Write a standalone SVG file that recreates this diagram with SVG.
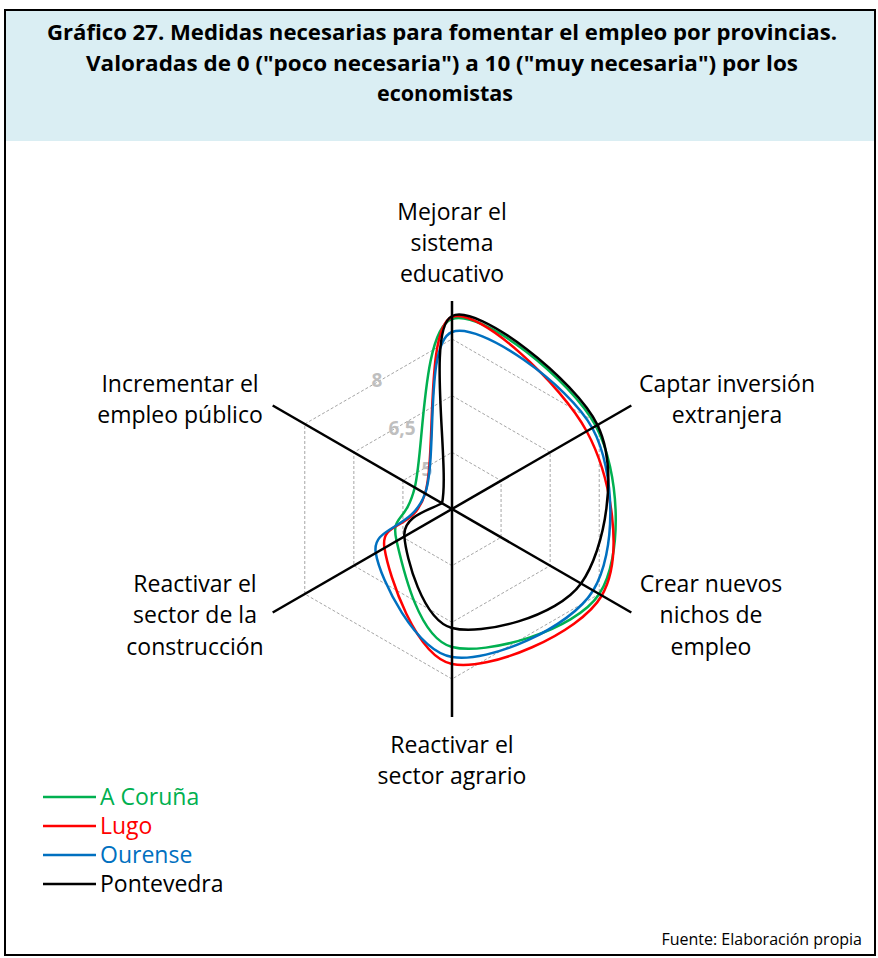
<svg xmlns="http://www.w3.org/2000/svg" width="878" height="958" viewBox="0 0 878 958">
<style>
.ttl{font-family:"Open Sans","Liberation Sans",sans-serif;font-weight:bold;font-size:22px;fill:#000;text-anchor:middle}
.lbl{font-family:"Open Sans","Liberation Sans",sans-serif;font-size:23px;fill:#000;text-anchor:middle}
.tick{font-family:"Open Sans","Liberation Sans",sans-serif;font-weight:bold;font-size:19px;fill:#bfbfbf;text-anchor:middle}
.leg{font-family:"Open Sans","Liberation Sans",sans-serif;font-size:23px}
.grid{fill:none;stroke:#a6a6a6;stroke-width:1;stroke-dasharray:3 2}
.ser{fill:none;stroke-width:2.5;stroke-linejoin:round}
.axis{stroke:#000;stroke-width:2.5}
</style>
<rect x="0" y="0" width="878" height="958" fill="#fff"/>
<rect x="5" y="10" width="870" height="131" fill="#daeef3"/>
<rect x="5" y="10" width="870" height="945" fill="none" stroke="#000" stroke-width="2"/>
<g id="title">
<text class="ttl" x="442" y="40" textLength="790" lengthAdjust="spacingAndGlyphs">Gráfico 27. Medidas necesarias para fomentar el empleo por provincias.</text>
<text class="ttl" x="442" y="71" textLength="712" lengthAdjust="spacingAndGlyphs">Valoradas de 0 ("poco necesaria") a 10 ("muy necesaria") por los</text>
<text class="ttl" x="445" y="101" textLength="136" lengthAdjust="spacingAndGlyphs">economistas</text>
</g>
<g id="grid">
<polygon class="grid" points="452,452.33 501.07,480.67 501.07,537.33 452,565.67 402.93,537.33 402.93,480.67"/>
<polygon class="grid" points="452,395.67 550.15,452.33 550.15,565.67 452,622.33 353.85,565.67 353.85,452.33"/>
<polygon class="grid" points="452,339 599.22,424 599.22,594 452,679 304.78,594 304.78,424"/>
<text class="tick" x="377" y="387">8</text>
<text class="tick" x="402" y="435">6,5</text>
<text class="tick" x="427" y="476">5</text>
</g>
<g id="series">
<path id="s-coruna" class="ser" stroke="#00b050" d="M452,319 C482.17,308.75 571.22,380.17 595.76,426 S623.18,557.17 599.22,594 S485.77,655.83 452,647 S402.79,567.58 396.58,541 S405.52,524.5 414.76,487.5 S421.83,329.25 452,319 Z"/>
<path id="s-lugo" class="ser" stroke="#ff0000" d="M452,317 C478.92,306.63 561.70,384.83 586.67,431.25 S624.27,556.71 601.82,595.5 S488.23,671.92 452,664 S388.93,576.42 384.45,548 S413.89,532 425.15,493.5 S425.08,327.38 452,317 Z"/>
<path id="s-ourense" class="ser" stroke="#0070c0" d="M452,332 C479.86,321.08 568.76,384.92 592.29,428 S616.54,552.33 593.16,590.5 S488.23,663.25 452,657 S380.27,580.25 375.79,553 S412.45,530.33 425.15,493.5 S424.14,342.92 452,332 Z"/>
<path id="s-pontevedra" class="ser" stroke="#000" d="M452,316 C477.91,302.96 575.98,380.42 597.49,425 S605.29,549.67 581.04,583.5 S481.45,635.83 452,628 S406.03,557.29 404.37,536.5 C402.71,515.71 430,510 442.04,503.25 C449.98,466.5 426.09,329.04 452,316 Z"/>
</g>
<g id="axes">
<line class="axis" x1="452" y1="301" x2="452" y2="717"/>
<line class="axis" x1="272.7" y1="405.5" x2="631.3" y2="612.5"/>
<line class="axis" x1="272.7" y1="612.5" x2="631.3" y2="405.5"/>
</g>
<g id="axis-labels">
<g id="lbl-educativo"><text class="lbl" x="452" y="220">Mejorar el</text><text class="lbl" x="452" y="251">sistema</text><text class="lbl" x="452" y="282">educativo</text></g>
<g id="lbl-inversion"><text class="lbl" x="727" y="392">Captar inversión</text><text class="lbl" x="727" y="423">extranjera</text></g>
<g id="lbl-nichos"><text class="lbl" x="711" y="592">Crear nuevos</text><text class="lbl" x="711" y="623">nichos de</text><text class="lbl" x="711" y="655">empleo</text></g>
<g id="lbl-agrario"><text class="lbl" x="452" y="753">Reactivar el</text><text class="lbl" x="452" y="784">sector agrario</text></g>
<g id="lbl-construccion"><text class="lbl" x="195" y="592">Reactivar el</text><text class="lbl" x="195" y="623">sector de la</text><text class="lbl" x="195" y="655">construcción</text></g>
<g id="lbl-publico"><text class="lbl" x="180" y="392">Incrementar el</text><text class="lbl" x="180" y="423">empleo público</text></g>
</g>
<g id="legend">
<line x1="43" y1="797" x2="96" y2="797" stroke="#00b050" stroke-width="2.5"/>
<text class="leg" x="100" y="805" fill="#00b050">A Coruña</text>
<line x1="43" y1="826" x2="96" y2="826" stroke="#ff0000" stroke-width="2.5"/>
<text class="leg" x="100" y="834" fill="#ff0000">Lugo</text>
<line x1="43" y1="855" x2="96" y2="855" stroke="#0070c0" stroke-width="2.5"/>
<text class="leg" x="100" y="863" fill="#0070c0">Ourense</text>
<line x1="43" y1="884" x2="96" y2="884" stroke="#000" stroke-width="2.5"/>
<text class="leg" x="100" y="892" fill="#000">Pontevedra</text>
</g>
<text id="source" x="862" y="945" font-family="'Open Sans','Liberation Sans',sans-serif" font-size="16" text-anchor="end">Fuente: Elaboración propia</text>
</svg>
